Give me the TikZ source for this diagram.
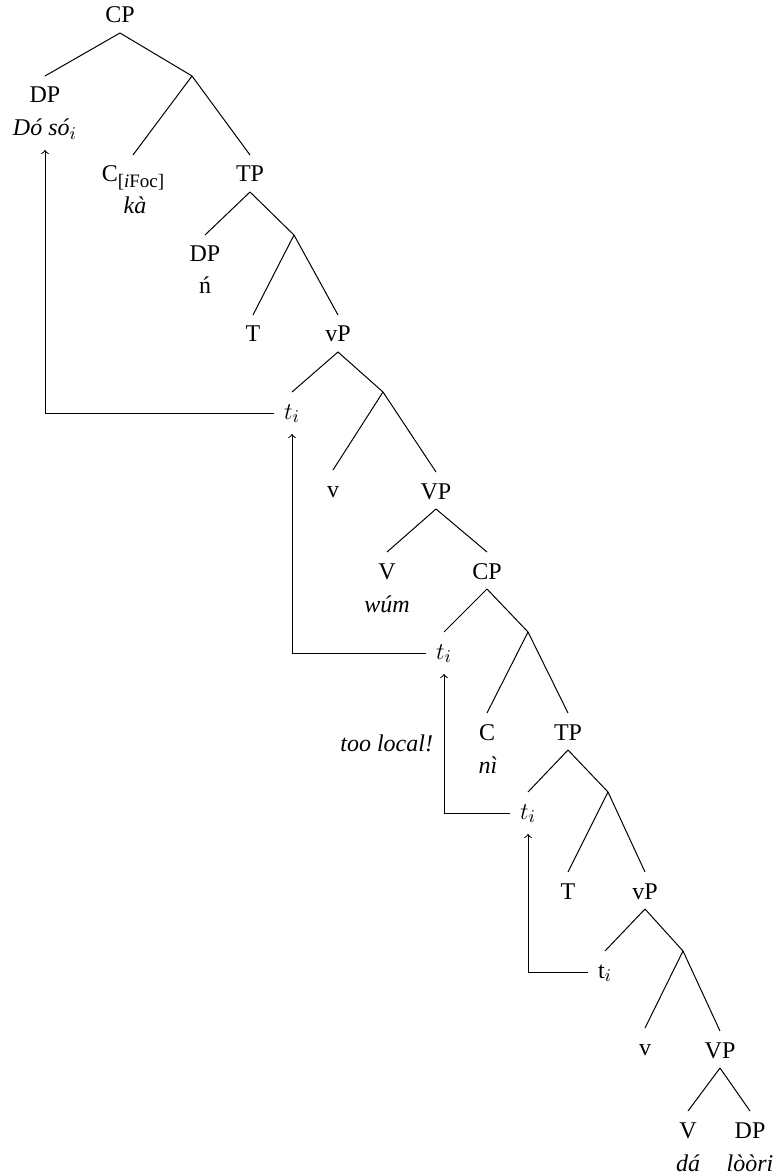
\documentclass[tikz,border=0pt]{standalone}
\usepackage{fontspec}
\setmainfont{Liberation Serif}
\DeclareMathSizes{12}{12}{9}{7}
\begin{document}
\begin{tikzpicture}[x=0.5pt,y=-0.5pt,line width=0.5pt,
  every node/.style={font=\fontsize{12pt}{14pt}\selectfont},
  lbl/.style={anchor=base, inner sep=0pt, outer sep=0pt, text height=13.5pt, text depth=5pt},
  wrd/.style={anchor=base, inner sep=0pt, outer sep=0pt, text depth=7pt, font=\fontsize{12pt}{14pt}\selectfont\itshape},
  trc/.style={anchor=base, inner ysep=0pt, inner xsep=5pt, outer sep=0pt, text height=13.5pt, text depth=7.5pt},
  mv/.style={->}]
\useasboundingbox (0,0) rectangle (777,1176);
% nodes
\node[lbl] (CP0) at (120,23) {CP};
\coordinate (b0) at (192,76);
\node[lbl] (DP1) at (45,103) {DP};
\node[wrd] (dos) at (45,136) {Dó só$_i$};
\node[lbl] (C2) at (133,182) {C\raisebox{-3pt}{\fontsize{9.5pt}{10pt}\selectfont[\textit{i}Foc]}};
\node[wrd] (ka) at (135,214) {kà};
\node[lbl] (TP2) at (250,182) {TP};
\coordinate (b1) at (294,235);
\node[lbl] (DP3) at (205,262) {DP};
\node[wrd,font=\fontsize{12pt}{14pt}\selectfont] (n) at (205,294) {ń};
\node[lbl] (T4) at (253,342) {T};
\node[lbl] (vP4) at (338,342) {vP};
\node[trc] (t1) at (292,419) {$t_i$};
\coordinate (b2) at (383,392);
\node[lbl] (v6) at (333,497) {v};
\node[lbl] (VP6) at (436,499) {VP};
\node[lbl] (V7) at (387,579) {V};
\node[wrd] (wum) at (387,612) {wúm};
\node[lbl] (CP7) at (487,579) {CP};
\node[trc] (t2) at (444,659) {$t_i$};
\coordinate (b4) at (528,632);
\node[lbl] (C9) at (487,740) {C};
\node[wrd] (ni) at (488,773) {nì};
\node[lbl] (TP9) at (568,740) {TP};
\node[trc] (t3) at (528,819) {$t_i$};
\coordinate (b5) at (608,792);
\node[lbl] (T11) at (568,899) {T};
\node[lbl] (vP11) at (645,899) {vP};
\node[trc] (t4) at (605,978) {t$_i$};
\coordinate (b6) at (683,951);
\node[lbl] (v13) at (645,1055) {v};
\node[lbl] (VP13) at (720,1058) {VP};
\node[lbl] (V14) at (688,1138) {V};
\node[lbl] (DP14) at (750,1138) {DP};
\node[wrd] (da) at (688,1171) {dá};
\node[wrd] (loori) at (750,1171) {lòòri};
\node[wrd, anchor=base east, text depth=0pt] (note) at (433,751) {too local!};
% tree edges
\draw (CP0.south) -- (DP1.north);
\draw (CP0.south) -- (b0);
\draw (b0) -- (C2.north);
\draw (b0) -- (TP2.north);
\draw (TP2.south) -- (DP3.north);
\draw (TP2.south) -- (b1);
\draw (b1) -- (T4.north);
\draw (b1) -- (vP4.north);
\draw (vP4.south) -- (t1.north);
\draw (vP4.south) -- (b2);
\draw (b2) -- (v6.north);
\draw (b2) -- (VP6.north);
\draw (VP6.south) -- (V7.north);
\draw (VP6.south) -- (CP7.north);
\draw (CP7.south) -- (t2.north);
\draw (CP7.south) -- (b4);
\draw (b4) -- (C9.north);
\draw (b4) -- (TP9.north);
\draw (TP9.south) -- (t3.north);
\draw (TP9.south) -- (b5);
\draw (b5) -- (T11.north);
\draw (b5) -- (vP11.north);
\draw (vP11.south) -- (t4.north);
\draw (vP11.south) -- (b6);
\draw (b6) -- (v13.north);
\draw (b6) -- (VP13.north);
\draw (VP13.south) -- (V14.north);
\draw (VP13.south) -- (DP14.north);
% movement arrows
\draw[mv] ([yshift=3pt]t1.base west) -| (dos.south);
\draw[mv] ([yshift=3pt]t2.base west) -| (t1.south);
\draw[mv] ([yshift=3pt]t3.base west) -| (t2.south);
\draw[mv] ([yshift=3pt]t4.base west) -| (t3.south);
\end{tikzpicture}
\end{document}
